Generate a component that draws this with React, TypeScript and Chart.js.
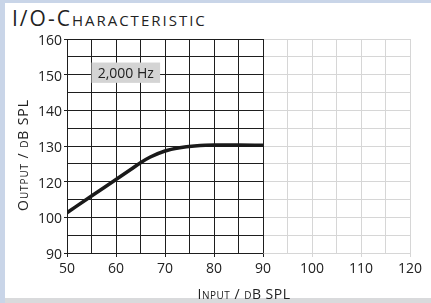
import React, { useEffect, useRef } from 'react';
import { Chart, registerables } from 'chart.js';

Chart.register(...registerables);

// ---- data ----
const inputLevels = [50, 55, 60, 63, 65, 67, 70, 73, 76, 80, 85, 90];
const outputLevels = [111.3, 116.0, 120.6, 123.4, 125.3, 126.9, 128.6, 129.5, 130.0, 130.3, 130.3, 130.2];
const xTickValues = [50, 60, 70, 80, 90, 100, 110, 120];
const yTickValues = [100, 110, 120, 130, 140, 150, 160];
const yTickLabels = ['90', '100', '120', '130', '140', '150', '160'];
const chartTitle = 'I/O-Characteristic';
const xTitle = 'Input / dB SPL';
const yTitle = 'Output / dB SPL';
const frequencyLabel = '2,000 Hz';

// ---- annotation / region settings (in axis units) ----
const measuredRange = [50, 90];
const labelBox = { x0: 55, x1: 69, y0: 153.4, y1: 147.7 };

const FONT = '"Open Sans", "Noto Sans", sans-serif';
const DARK = '#1e1e1e';
const LIGHT = '#d6d6d6';

const align = (p: number) => Math.round(p - 0.5) + 0.5;

const overlayPlugin = {
  id: 'overlay',
  beforeDatasetsDraw(chart: any) {
    const { ctx, chartArea: a, scales } = chart;
    const x = scales.x;
    const y = scales.y;
    ctx.save();
    ctx.strokeStyle = DARK;
    ctx.lineWidth = 1;
    const xl = x.getPixelForValue(measuredRange[0]);
    const xr = x.getPixelForValue(measuredRange[1]);
    ctx.beginPath();
    y.ticks.forEach((t: any) => {
      const py = align(y.getPixelForValue(t.value));
      ctx.moveTo(xl, py);
      ctx.lineTo(xr + 0.5, py);
    });
    x.ticks.forEach((t: any) => {
      if (t.value < measuredRange[0] || t.value > measuredRange[1]) return;
      const px = align(x.getPixelForValue(t.value));
      ctx.moveTo(px, a.top);
      ctx.lineTo(px, a.bottom);
    });
    ctx.stroke();

    // frequency label box
    const bx0 = x.getPixelForValue(labelBox.x0);
    const bx1 = x.getPixelForValue(labelBox.x1);
    const by0 = y.getPixelForValue(labelBox.y0);
    const by1 = y.getPixelForValue(labelBox.y1);
    ctx.fillStyle = '#d4d4d4';
    ctx.fillRect(bx0, by0, bx1 - bx0, by1 - by0);
    ctx.fillStyle = '#222';
    ctx.font = '14px ' + FONT;
    ctx.textAlign = 'center';
    ctx.textBaseline = 'middle';
    ctx.fillText(frequencyLabel, (bx0 + bx1) / 2, (by0 + by1) / 2 + 1);
    ctx.restore();
  },
  afterDraw(chart: any) {
    const { ctx, chartArea: a } = chart;
    ctx.save();
    ctx.fillStyle = '#222';
    ctx.font = 'small-caps 14px ' + FONT;
    ctx.textAlign = 'center';
    ctx.textBaseline = 'alphabetic';
    try {
      (ctx as any).letterSpacing = '0.5px';
    } catch (e) {}
    ctx.fillText(xTitle, (a.left + a.right) / 2 + 5.5, a.bottom + 46);
    try {
      (ctx as any).letterSpacing = '0.9px';
    } catch (e) {}
    ctx.translate(28, (a.top + a.bottom) / 2 + 9);
    ctx.rotate(-Math.PI / 2);
    ctx.fillText(yTitle, 0, 0);
    ctx.restore();
  },
};

export default function App() {
  const ref = useRef<HTMLCanvasElement | null>(null);

  useEffect(() => {
    if (!ref.current) return;
    const tickFont = { family: FONT, size: 14 };
    const chart = new Chart(ref.current, {
      type: 'line',
      data: {
        datasets: [
          {
            data: inputLevels.map((v, i) => ({ x: v, y: outputLevels[i] })),
            borderColor: '#1a1a1a',
            borderWidth: 3.5,
            pointRadius: 0,
            cubicInterpolationMode: 'monotone',
            fill: false,
          },
        ],
      },
      options: {
        responsive: false,
        animation: false,
        layout: { padding: { top: 39, right: 21, left: 0, bottom: 0 } },
        plugins: {
          legend: { display: false },
          tooltip: { enabled: false },
          title: { display: false },
        },
        scales: {
          x: {
            type: 'linear',
            min: 50,
            max: 120,
            afterFit: (s: any) => {
              s.height = 50;
            },
            ticks: {
              stepSize: 5,
              autoSkip: false,
              maxRotation: 0,
              padding: 4,
              color: '#222',
              font: tickFont,
              callback: (v: any) => (xTickValues.includes(v) ? String(v) : ''),
            },
            grid: {
              color: LIGHT,
              lineWidth: 1,
              tickLength: 4,
              tickColor: (c: any) =>
                c.tick && xTickValues.includes(c.tick.value)
                  ? c.tick.value <= measuredRange[1]
                    ? DARK
                    : LIGHT
                  : 'rgba(0,0,0,0)',
            },
            border: { color: LIGHT },
          },
          y: {
            type: 'linear',
            min: 100,
            max: 160,
            afterFit: (s: any) => {
              s.width = 67;
            },
            ticks: {
              stepSize: 5,
              autoSkip: false,
              padding: 2,
              labelOffset: 2,
              color: '#222',
              font: tickFont,
              callback: (v: any) => {
                const i = yTickValues.indexOf(v);
                return i >= 0 ? yTickLabels[i] : '';
              },
            },
            grid: {
              color: LIGHT,
              lineWidth: 1,
              tickLength: 3,
              tickColor: (c: any) =>
                c.tick && yTickValues.includes(c.tick.value) ? DARK : 'rgba(0,0,0,0)',
            },
            border: { color: DARK },
          },
        },
      },
      plugins: [overlayPlugin],
    } as any);
    return () => chart.destroy();
  }, []);

  return (
    <div
      style={{
        position: 'fixed',
        left: 0,
        top: 0,
        width: 431,
        height: 303,
        background: '#c9d5e8',
        overflow: 'hidden',
      }}
    >
      <div
        style={{
          position: 'absolute',
          left: 5,
          right: 0,
          bottom: 0,
          height: 5,
          background: '#d9dadc',
        }}
      />
      <div
        style={{
          position: 'absolute',
          left: 5,
          top: 3,
          right: 0,
          bottom: 5,
          background: '#ffffff',
        }}
      />
      <div
        style={{
          position: 'absolute',
          left: 12,
          top: 8,
          fontFamily: FONT,
          fontSize: 21,
          lineHeight: '21px',
          fontVariant: 'small-caps',
          letterSpacing: '2px',
          color: '#222',
          whiteSpace: 'nowrap',
        }}
      >
        {chartTitle}
      </div>
      <canvas
        ref={ref}
        width={431}
        height={303}
        style={{ position: 'absolute', left: 0, top: 0, width: 431, height: 303 }}
      />
    </div>
  );
}
